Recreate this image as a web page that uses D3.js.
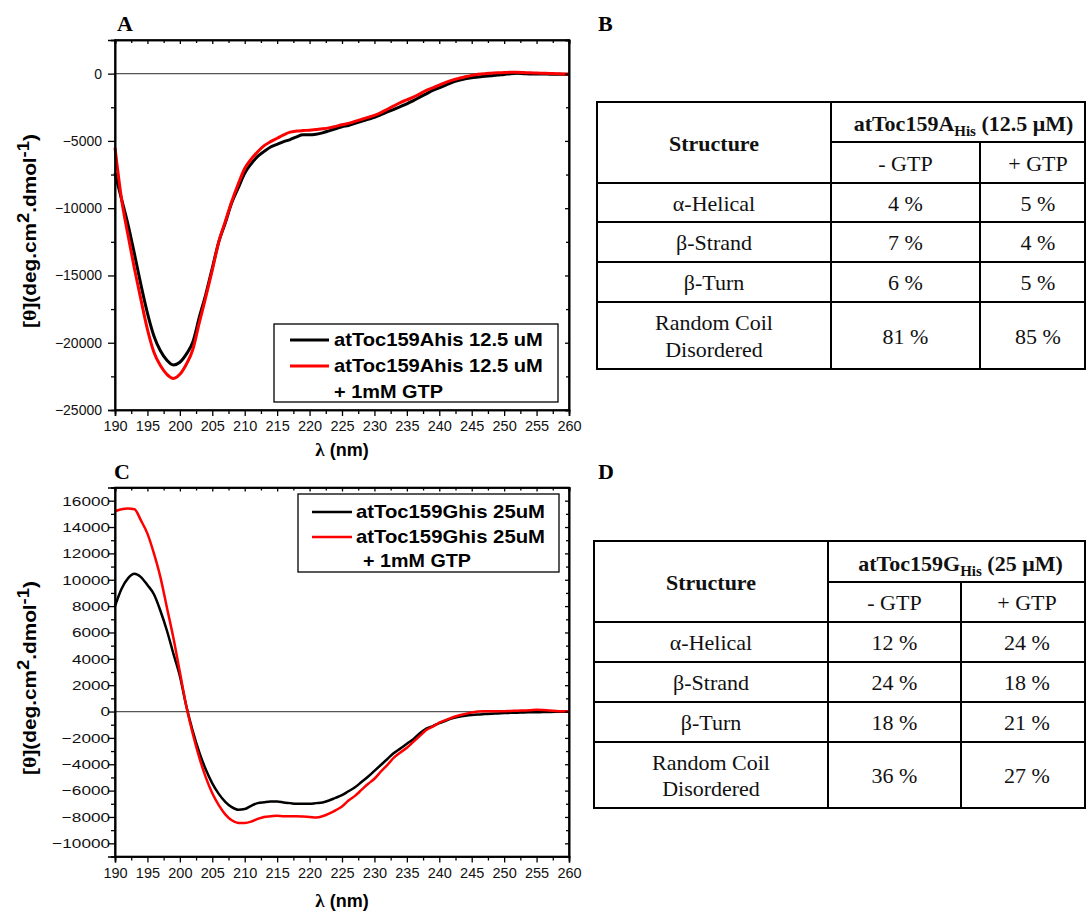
<!DOCTYPE html>
<html><head><meta charset="utf-8">
<script src="https://cdn.jsdelivr.net/npm/d3@7"></script>
<style>body{margin:0;background:#fff} svg{display:block}</style>
</head><body>
<svg id="fig" width="1086" height="918"></svg>
<script>
// ---------- DATA ----------
const wavelengthNm = [190,191,192,193,194,195,196,197,198,199,200,201,202,203,204,205,206,207,208,209,
  210,211,212,213,214,215,216,217,218,219,220,221,222,223,224,225,226,227,228,229,
  230,231,232,233,234,235,236,237,238,239,240,241,242,243,244,245,246,247,248,249,
  250,251,252,253,254,255,256,257,258,259,260];

const aHisMinusGTP = [-7400,-9300,-11200,-13400,-15700,-17800,-19500,-20600,-21300,-21650,
  -21450,-20850,-19950,-18100,-16400,-14450,-12500,-11100,-9600,-8500,
  -7400,-6700,-6150,-5780,-5450,-5250,-5050,-4900,-4700,-4550,
  -4550,-4500,-4400,-4250,-4100,-3950,-3850,-3700,-3550,-3400,
  -3250,-3050,-2850,-2650,-2450,-2250,-2000,-1750,-1500,-1250,
  -1050,-850,-650,-500,-380,-300,-250,-200,-150,-100,
  -60,0,20,0,-20,-30,-30,-40,-50,-50,-60];

const aHisPlusGTP = [-5500,-9300,-12000,-14500,-16800,-19000,-20700,-21700,-22350,-22650,
  -22350,-21600,-20500,-18500,-16600,-14600,-12500,-11000,-9500,-8200,
  -7050,-6350,-5800,-5350,-5050,-4800,-4550,-4350,-4270,-4230,
  -4200,-4150,-4100,-4030,-3920,-3800,-3700,-3550,-3400,-3250,
  -3100,-2900,-2650,-2400,-2150,-1950,-1750,-1500,-1250,-1050,
  -850,-650,-480,-350,-230,-130,-50,0,30,60,
  80,100,100,80,60,50,30,10,0,-20,-30];

const gHisMinusGTP = [8000,9300,10100,10450,10200,9600,8900,7650,6150,4400,
  2700,400,-1500,-3100,-4400,-5450,-6250,-6850,-7250,-7450,
  -7400,-7150,-6950,-6880,-6830,-6830,-6900,-6950,-7000,-7000,
  -7000,-6950,-6900,-6750,-6550,-6350,-6050,-5750,-5350,-4950,
  -4500,-4050,-3600,-3150,-2800,-2450,-2100,-1650,-1300,-1100,
  -880,-700,-520,-400,-320,-260,-220,-190,-160,-140,
  -120,-100,-90,-70,-60,-50,-40,-30,-20,-10,0];

const gHisPlusGTP = [15200,15350,15400,15350,14500,13500,12000,10200,7900,5600,
  3000,400,-1700,-3500,-5000,-6200,-7100,-7800,-8250,-8450,
  -8450,-8350,-8150,-8000,-7950,-7900,-7950,-7950,-7950,-7970,
  -8000,-8050,-7950,-7750,-7500,-7200,-6750,-6400,-5950,-5500,
  -5100,-4550,-4050,-3500,-3100,-2750,-2300,-1850,-1400,-1150,
  -850,-650,-450,-300,-180,-80,0,20,20,30,
  30,50,60,80,100,130,120,80,50,30,20];

const xTickValues = [190,195,200,205,210,215,220,225,230,235,240,245,250,255,260];
const yTicksA = [0,-5000,-10000,-15000,-20000,-25000];
const yTicksC = [16000,14000,12000,10000,8000,6000,4000,2000,0,-2000,-4000,-6000,-8000,-10000];

const legendA = ["atToc159Ahis 12.5 uM", "atToc159Ahis 12.5 uM", "+ 1mM GTP"];
const legendC = ["atToc159Ghis 25uM", "atToc159Ghis 25uM", "+ 1mM GTP"];

const structureRows = [["α-Helical"], ["β-Strand"], ["β-Turn"], ["Random Coil", "Disordered"]];
const tableBMinus = ["4 %", "7 %", "6 %", "81 %"];
const tableBPlus  = ["5 %", "4 %", "5 %", "85 %"];
const tableDMinus = ["12 %", "24 %", "18 %", "36 %"];
const tableDPlus  = ["24 %", "18 %", "21 %", "27 %"];
const gtpHeaders = ["- GTP", "+ GTP"];

// ---------- DRAWING ----------
const svg = d3.select("#fig");
const SANS = "'Liberation Sans', Arial, sans-serif";
const SERIF = "'Liberation Serif', 'Times New Roman', serif";

function stretchLabels(sel, k) {
  sel.each(function () {
    const t = d3.select(this);
    const x = +t.attr("x") || 0, y = +t.attr("y") || 0;
    t.attr("x", 0).attr("y", 0).attr("transform", `translate(${x},${y}) scale(${k},1)`);
  });
}

function styleAxis(g) {
  g.attr("font-family", SANS).attr("font-size", 14);
  g.select(".domain").attr("stroke", "#000").attr("stroke-width", 1.6);
  g.selectAll(".tick line").attr("stroke", "#000").attr("stroke-width", 1.3);
  g.selectAll(".tick text").attr("fill", "#111");
}

function drawPanel(p) {
  const g = svg.append("g");
  const x = d3.scaleLinear().domain([190, 260]).range([p.left, p.right]);
  const y = d3.scaleLinear().domain(p.yDomain).range([p.bottom, p.top]);

  g.append("line").attr("x1", p.left).attr("x2", p.right)
    .attr("y1", y(0)).attr("y2", y(0)).attr("stroke", "#555").attr("stroke-width", 1.2);

  const line = d3.line().curve(d3.curveMonotoneX).x((d, i) => x(wavelengthNm[i])).y(d => y(d));
  p.series.forEach(s => {
    g.append("path").datum(s.values).attr("d", line)
      .attr("fill", "none").attr("stroke", s.color).attr("stroke-width", s.width)
      .attr("stroke-linejoin", "round");
  });

  const xMinor = xTickValues.slice(0, -1).map(v => v + 2.5);
  const yMinor = d3.range(p.yDomain[0], p.yDomain[1] + 1, p.minorStep).filter(v => !p.yTicks.includes(v));

  // bottom
  const bx = g.append("g").attr("transform", `translate(0,${p.bottom})`)
    .call(d3.axisBottom(x).tickValues(xTickValues).tickSize(6).tickPadding(5).tickFormat(d3.format("d")));
  styleAxis(bx);
  bx.selectAll(".tick text").attr("font-size", 14.5);
  const bxm = g.append("g").attr("transform", `translate(0,${p.bottom})`)
    .call(d3.axisBottom(x).tickValues(xMinor).tickSize(4).tickFormat(""));
  styleAxis(bxm);
  // top (inward)
  const tx = g.append("g").attr("transform", `translate(0,${p.top})`)
    .call(d3.axisBottom(x).tickValues(xTickValues).tickSize(4).tickFormat(""));
  styleAxis(tx);
  const txm = g.append("g").attr("transform", `translate(0,${p.top})`)
    .call(d3.axisBottom(x).tickValues(xMinor).tickSize(3).tickFormat(""));
  styleAxis(txm);
  // left
  const ly = g.append("g").attr("transform", `translate(${p.left},0)`)
    .call(d3.axisLeft(y).tickValues(p.yTicks).tickSize(7).tickPadding(p.yPad).tickFormat(d3.format("d")));
  styleAxis(ly);
  ly.selectAll(".tick text").attr("font-size", p.yFont);
  stretchLabels(ly.selectAll(".tick text"), p.yStretch);
  const lym = g.append("g").attr("transform", `translate(${p.left},0)`)
    .call(d3.axisLeft(y).tickValues(yMinor).tickSize(4).tickFormat(""));
  styleAxis(lym);
  // right (inward)
  const ry = g.append("g").attr("transform", `translate(${p.right},0)`)
    .call(d3.axisLeft(y).tickValues(p.yTicks).tickSize(4).tickFormat(""));
  styleAxis(ry);
  const rym = g.append("g").attr("transform", `translate(${p.right},0)`)
    .call(d3.axisLeft(y).tickValues(yMinor).tickSize(3).tickFormat(""));
  styleAxis(rym);

  g.append("rect").attr("x", p.left).attr("y", p.top)
    .attr("width", p.right - p.left).attr("height", p.bottom - p.top)
    .attr("fill", "none").attr("stroke", "#000").attr("stroke-width", 1.6);

  // x title
  const xt = g.append("text").attr("x", (p.left + p.right) / 2).attr("y", p.xTitleY)
    .attr("text-anchor", "middle").attr("font-family", SANS).attr("font-weight", "bold")
    .attr("font-size", 18);
  xt.append("tspan").attr("font-family", SERIF).attr("font-size", 19).text("λ");
  xt.append("tspan").text(" (nm)");

  // y title
  const cy = (p.top + p.bottom) / 2 + 6;
  const yt = g.append("text").attr("text-anchor", "middle")
    .attr("font-family", SANS).attr("font-weight", "bold").attr("font-size", 18);
  yt.append("tspan").text("[");
  yt.append("tspan").attr("font-family", SERIF).attr("font-size", 19).text("θ");
  yt.append("tspan").text("](deg.cm");
  yt.append("tspan").attr("font-size", 16).attr("dy", -7).text("2");
  yt.append("tspan").attr("dy", 7).text(".dmol");
  yt.append("tspan").attr("font-size", 16).attr("dy", -7).text("-1");
  yt.append("tspan").attr("dy", 7).text(")");
  const w = yt.node().getComputedTextLength();
  yt.attr("transform", `translate(36,${cy}) rotate(-90) scale(${194 / w},1)`);

  // panel letter
  svg.append("text").attr("x", p.letterX).attr("y", p.letterY).attr("font-family", SERIF)
    .attr("font-weight", "bold").attr("font-size", 22).text(p.letter);

  // legend
  const L = p.legend;
  const lg = svg.append("g");
  lg.append("rect").attr("x", L.x).attr("y", L.y).attr("width", L.w).attr("height", L.h)
    .attr("fill", "#fff").attr("stroke", "#000").attr("stroke-width", 1.3);
  p.series.forEach((s, i) => {
    lg.append("line").attr("x1", L.lx1).attr("x2", L.lx2).attr("y1", L.lineY[i]).attr("y2", L.lineY[i])
      .attr("stroke", s.color).attr("stroke-width", s.width);
  });
  L.labels.forEach((txt, i) => {
    const t = lg.append("text").attr("x", 0).attr("y", 0)
      .attr("font-family", SANS).attr("font-weight", "bold").attr("font-size", L.font).text(txt);
    const nat = t.node().getComputedTextLength();
    const k = L.widths[i] / nat;
    t.attr("transform", `translate(${L.textX[i]},${L.textY[i]}) scale(${k},1)`);
  });
}

drawPanel({
  left: 115, right: 569, top: 40, bottom: 410,
  yDomain: [-25000, 2500], yTicks: yTicksA, minorStep: 2500,
  yPad: 6, yFont: 14, yStretch: 1.0,
  xTitleY: 456, letter: "A", letterX: 117, letterY: 31,
  series: [{ values: aHisMinusGTP, color: "#000", width: 3 },
           { values: aHisPlusGTP, color: "#ff0000", width: 3 }],
  legend: { x: 274, y: 324, w: 284, h: 78, lx1: 290, lx2: 329, lineY: [340, 366],
    labels: legendA, font: 17.5, widths: [209, 209, 109],
    textX: [334, 334, 334], textY: [346, 372, 398] }
});

drawPanel({
  left: 115, right: 569, top: 487.5, bottom: 856.5,
  yDomain: [-11000, 17000], yTicks: yTicksC, minorStep: 1000,
  yPad: -2, yFont: 13.5, yStretch: 1.27,
  xTitleY: 907, letter: "C", letterX: 114, letterY: 479,
  series: [{ values: gHisMinusGTP, color: "#000", width: 2.5 },
           { values: gHisPlusGTP, color: "#ff0000", width: 2.5 }],
  legend: { x: 298, y: 494, w: 261, h: 78, lx1: 312, lx2: 352, lineY: [512, 537],
    labels: legendC, font: 18.5, widths: [189, 189, 108],
    textX: [356, 356, 363], textY: [517.5, 542.5, 567] }
});

// ---------- TABLES ----------
function drawTable(T) {
  const g = svg.append("g");
  const [L, c1, c2, R] = T.cols;
  const vr = T.virtualRight;
  const [top, sub, hb, r1, r2, r3, bot] = T.rows;
  const hl = (x1, x2, y) => g.append("line").attr("x1", x1).attr("x2", x2).attr("y1", y).attr("y2", y)
    .attr("stroke", "#000").attr("stroke-width", 2).attr("stroke-linecap", "square");
  const vl = (x, y1, y2) => g.append("line").attr("x1", x).attr("x2", x).attr("y1", y1).attr("y2", y2)
    .attr("stroke", "#000").attr("stroke-width", 2).attr("stroke-linecap", "square");
  hl(L, R, top); hl(c1, R, sub); [hb, r1, r2, r3, bot].forEach(y => hl(L, R, y));
  vl(L, top, bot); vl(c1, top, bot); vl(c2, sub, bot); vl(R, top, bot);

  const txt = (x, y, s, bold) => g.append("text").attr("x", x).attr("y", y).attr("text-anchor", "middle")
    .attr("font-family", SERIF).attr("font-size", 22).attr("font-weight", bold ? "bold" : "normal")
    .attr("fill", "#111").text(s);

  txt((L + c1) / 2, (top + hb) / 2 + 8, "Structure", true);
  const h = g.append("text").attr("x", (c1 + vr) / 2).attr("y", (top + sub) / 2 + 9)
    .attr("text-anchor", "middle").attr("font-family", SERIF).attr("font-size", 22)
    .attr("font-weight", "bold").attr("fill", "#111");
  h.append("tspan").text(T.name);
  h.append("tspan").attr("font-size", 15).attr("dy", 5).text("His");
  h.append("tspan").attr("dy", -5).text(" " + T.conc);
  txt((c1 + c2) / 2, (sub + hb) / 2 + 8, gtpHeaders[0], false);
  txt((c2 + vr) / 2, (sub + hb) / 2 + 8, gtpHeaders[1], false);

  const bounds = [hb, r1, r2, r3, bot];
  structureRows.forEach((lines, i) => {
    const cy = (bounds[i] + bounds[i + 1]) / 2;
    if (lines.length === 1) {
      txt((L + c1) / 2, cy + 8, lines[0], false);
    } else {
      txt((L + c1) / 2, cy - 5.5, lines[0], false);
      txt((L + c1) / 2, cy + 21, lines[1], false);
    }
    txt((c1 + c2) / 2, cy + 8, T.minus[i], false);
    txt((c2 + vr) / 2, cy + 8, T.plus[i], false);
  });
}

drawTable({ cols: [597, 831, 980, 1085], virtualRight: 1096,
  rows: [102, 142, 183, 222, 262, 302, 369],
  name: "atToc159A", conc: "(12.5 μM)", minus: tableBMinus, plus: tableBPlus });
drawTable({ cols: [594, 828, 961, 1085], virtualRight: 1093,
  rows: [541, 582, 622, 662, 702, 742, 808],
  name: "atToc159G", conc: "(25 μM)", minus: tableDMinus, plus: tableDPlus });

svg.append("text").attr("x", 598).attr("y", 31).attr("font-family", SERIF)
  .attr("font-weight", "bold").attr("font-size", 22).text("B");
svg.append("text").attr("x", 598).attr("y", 479).attr("font-family", SERIF)
  .attr("font-weight", "bold").attr("font-size", 22).text("D");
</script>
</body></html>
